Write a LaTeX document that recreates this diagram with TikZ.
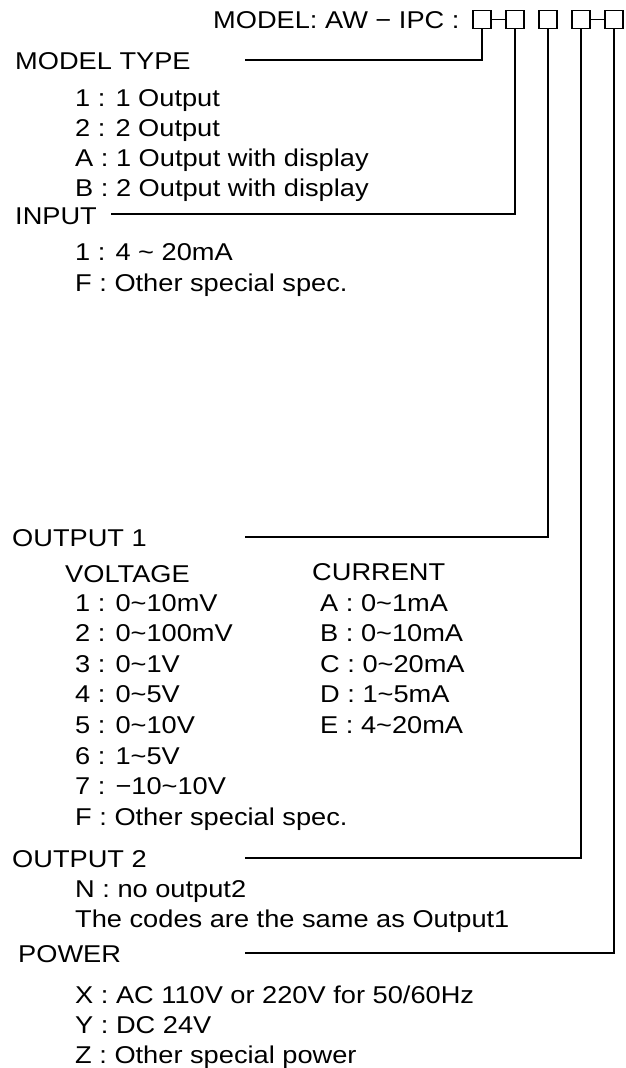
\documentclass[tikz,border=0pt]{standalone}
\usepackage{fontspec}
\setmainfont{Liberation Sans}[FakeStretch=1.12]
\usetikzlibrary{positioning}

\begin{document}
\begin{tikzpicture}[x=1pt,y=-1pt,% one unit = one pixel of the sheet, y runs down
			every node/.style={
				inner sep=0pt,
				font=\fontsize{24.3}{30}\selectfont
			},
			lbl/.style={anchor=base west},           % headings, placed on their baseline
			lst/.style={anchor=north west,align=left},% code lists, "\\" breaks the lines
			wide/.style={font=\fontsize{24.3}{30.6}\selectfont},
			codebox/.style={draw,line width=1.2pt,minimum width=18pt,minimum height=18pt},
			lead/.style={draw,line width=1.2pt}
		]
		\useasboundingbox (0,0) rectangle (625,1068);
		% model string and its code boxes
		\node[lbl](Title) at (213,28.5) {MODEL: AW − IPC :};
		\node[codebox](B1) at (482,19.5) {};
		\node[codebox](B2) at (515,19.5) {};
		\node[codebox](B3) at (548,19.5) {};
		\node[codebox](B4) at (581,19.5) {};
		\node[codebox](B5) at (614,19.5) {};
		\path[lead] (B1) -- (B2) (B4) -- (B5);
		% headings
		\node[lbl](Type) at (15,69) {MODEL TYPE};
		\node[lbl](Input) at (15,224) {INPUT};
		\node[lbl](Out1) at (12,546) {OUTPUT 1};
		\node[lbl](Volt) at (65,582) {VOLTAGE};
		\node[lbl](Curr) at (312,580) {CURRENT};
		\node[lbl](Out2) at (12,867) {OUTPUT 2};
		\node[lbl](Power) at (18,962) {POWER};
		% code lists
		\node[lst](TypeList) at (75,89) {1 : 1 Output\\2 : 2 Output\\A : 1 Output with display\\B : 2 Output with display};
		\node[lst,font=\fontsize{24.3}{31}\selectfont](InputList) at (75,243) {1 : 4 \textasciitilde{} 20mA\\F : Other special spec.};
		\node[lst,wide](VoltList) at (75,594) {1 : 0\textasciitilde10mV\\2 : 0\textasciitilde100mV\\3 : 0\textasciitilde1V\\4 : 0\textasciitilde5V\\5 : 0\textasciitilde10V\\6 : 1\textasciitilde5V\\7 : −10\textasciitilde10V\\F : Other special spec.};
		\node[lst,wide](CurrList) at (320,594) {A : 0\textasciitilde1mA\\B : 0\textasciitilde10mA\\C : 0\textasciitilde20mA\\D : 1\textasciitilde5mA\\E : 4\textasciitilde20mA};
		\node[lst](Out2List) at (75,880) {N : no output2\\The codes are the same as Output1};
		\node[lst](PowerList) at (75,986) {X : AC 110V or 220V for 50/60Hz\\Y : DC 24V\\Z : Other special power};
		% leader lines from each box to its heading
		\coordinate (TypeEnd) at (245,60);
		\coordinate (InputEnd) at (111,214);
		\coordinate (Out1End) at (245,537);
		\coordinate (Out2End) at (245,858);
		\coordinate (PowerEnd) at (245,953);
		\path[lead]
		(B1.south) |- (TypeEnd)
		(B2.south) |- (InputEnd)
		(B3.south) |- (Out1End)
		(B4.south) |- (Out2End)
		(B5.south) |- (PowerEnd)
		;
	\end{tikzpicture}
\end{document}
